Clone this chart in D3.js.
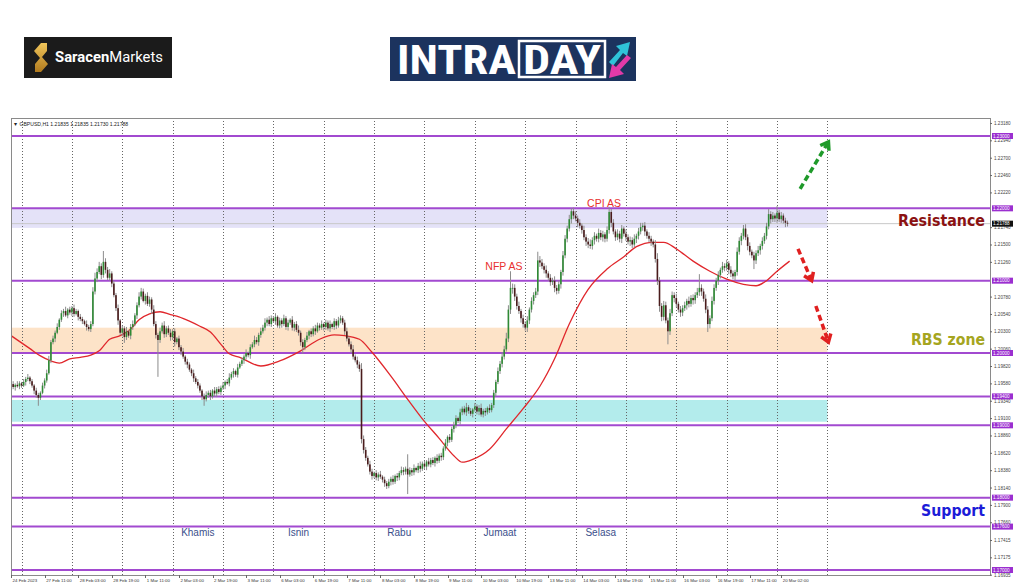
<!DOCTYPE html>
<html><head><meta charset="utf-8">
<script src="https://cdn.jsdelivr.net/npm/d3@7"></script>
<style>body{margin:0;background:#fff;} svg{display:block;font-family:"Liberation Sans",Arial,sans-serif;}</style>
</head><body><svg id="c" width="1024" height="587"></svg>
<script>
// ---------------- DATA (GBPUSD H1, 24 Feb 2023 19:00 -> 20 Mar 2023) ----------------
const firstOpen = 1.1955;
const closes = [
1.1957,1.1953,1.1956,1.1954,1.1958,1.1955,1.1960,1.1964,1.1966,1.1961,1.1955,
1.1948,1.1942,1.1938,1.1945,1.1955,1.1962,1.1972,1.1990,1.2015,1.2020,
1.2028,1.2036,1.2046,1.2055,1.2058,1.2052,1.2060,1.2056,1.2062,1.2054,1.2058,1.2050,1.2047,
1.2044,1.2040,1.2036,1.2033,1.2040,1.2085,1.2103,1.2112,1.2120,1.2108,1.2126,1.2115,
1.2104,1.2110,1.2096,1.2080,1.2062,1.2045,1.2028,1.2034,1.2022,1.2030,1.2024,1.2036,1.2040,
1.2052,1.2066,1.2078,1.2085,1.2072,1.2079,1.2068,1.2074,1.2060,1.2040,1.2025,1.2018,
1.2030,1.2038,1.2026,1.2034,1.2028,1.2022,1.2030,1.2015,1.2020,1.2008,
1.2002,1.1995,1.1988,1.1984,1.1977,1.1972,1.1965,1.1960,1.1955,1.1948,1.1940,1.1936,1.1942,
1.1945,1.1940,1.1948,1.1944,1.1950,1.1946,1.1952,1.1955,1.1960,1.1958,1.1966,1.1971,
1.1975,1.1970,1.1980,1.1985,1.1990,1.1995,1.2000,1.1997,1.2008,1.2012,1.2018,1.2015,1.2025,1.2030,1.2035,
1.2042,1.2046,1.2040,1.2048,1.2044,1.2050,1.2038,1.2045,1.2040,1.2048,1.2036,1.2042,1.2046,1.2035,1.2040,1.2032,1.2028,
1.2015,1.2008,1.2018,1.2024,1.2030,1.2026,1.2034,1.2030,1.2038,1.2035,1.2040,
1.2036,1.2042,1.2034,1.2040,1.2036,1.2044,1.2038,1.2045,1.2048,1.2042,
1.2030,1.2020,1.2012,1.2005,1.1995,1.1990,1.1984,1.1978,1.1881,1.1866,1.1855,1.1846,
1.1836,1.1830,1.1834,1.1828,1.1832,1.1829,1.1825,1.1820,1.1816,1.1822,
1.1826,1.1822,1.1830,1.1828,1.1834,1.1838,1.1836,1.1840,1.1832,1.1838,1.1835,1.1841,
1.1838,1.1844,1.1840,1.1847,1.1843,1.1850,1.1846,1.1852,1.1848,1.1855,1.1851,1.1858,1.1856,
1.1868,1.1876,1.1884,1.1880,1.1895,1.1900,1.1910,1.1906,1.1918,1.1923,
1.1918,1.1925,1.1920,1.1916,1.1922,1.1926,1.1919,1.1924,1.1915,1.1920,1.1918,1.1924,1.1921,1.1928,
1.1945,1.1960,1.1975,1.1985,1.1995,1.2005,1.2020,1.2060,1.2090,
1.2090,1.2078,1.2065,1.2058,1.2048,1.2040,1.2035,1.2045,1.2060,1.2072,1.2080,1.2085,
1.2128,1.2125,1.2120,1.2115,1.2110,1.2104,1.2098,1.2100,1.2090,1.2086,1.2095,
1.2112,1.2135,1.2158,1.2172,1.2185,1.2196,1.2190,1.2186,1.2180,1.2176,1.2170,
1.2160,1.2154,1.2150,1.2148,1.2156,1.2162,1.2158,1.2166,1.2160,1.2164,1.2158,
1.2170,1.2195,1.2180,1.2168,1.2160,1.2165,1.2158,1.2172,1.2165,1.2160,1.2154,1.2156,
1.2150,1.2158,1.2162,1.2168,1.2174,1.2176,1.2168,1.2162,1.2158,1.2154,1.2150,
1.2130,1.2100,1.2065,1.2050,1.2066,1.2045,1.2030,1.2055,1.2080,1.2076,
1.2068,1.2060,1.2056,1.2062,1.2066,1.2072,1.2068,1.2076,1.2073,1.2080,1.2084,1.2090,1.2085,1.2075,
1.2060,1.2040,1.2048,1.2072,1.2090,1.2100,1.2108,1.2115,1.2120,1.2118,1.2124,1.2115,
1.2110,1.2106,1.2112,1.2140,1.2155,1.2162,1.2172,1.2160,
1.2148,1.2140,1.2135,1.2128,1.2138,1.2142,1.2148,1.2155,1.2162,1.2175,
1.2192,1.2185,1.2190,1.2186,1.2194,1.2185,1.2190,1.2183,1.2180,1.21788
];
// wick extension beyond the body, in pips
const wickUp = [
3,4,2,5,3,2,4,3,5,2, 3,2,4,3,2,4,3,5,6,3, 4,3,5,2,4,3,6,2,4,3, 5,3,2,4,3,2,5,3,4,6,
8,5,6,4,15,5,4,6,3,4, 3,5,2,4,3,6,2,4,5,3, 4,6,5,4,3,5,4,3,6,4, 3,5,4,6,3,4,5,3,4,2,
4,3,5,2,4,3,2,5,3,4, 3,2,4,5,3,4,2,5,3,4, 3,5,2,4,6,3,4,2,5,3, 4,3,5,2,4,3,6,4,3,5,
4,6,3,5,4,3,5,2,4,3, 5,3,4,2,5,3,4,6,3,4, 3,5,2,4,3,5,4,3,5,2, 4,3,5,2,4,3,5,4,3,4,
5,3,4,6,3,5,4,8,5,4, 3,5,4,2,4,3,5,2,4,3, 4,3,5,2,4,3,5,4,3,20, 4,3,5,2,4,6,3,4,2,5,
3,4,2,5,3,4,3,5,2,4, 3,5,4,2,5,3,4,6,3,4, 2,5,3,4,6,3,4,2,5,3, 4,3,5,4,6,5,8,6,23,6,
5,4,6,3,5,4,6,3,5,4, 5,12,6,5,4,6,3,5,4,6, 4,5,3,6,5,4,6,4,5,6, 4,5,3,6,4,5,7,4,5,3,
6,4,5,3,5,7,4,5,3,6, 4,5,3,6,4,5,4,6,3,5, 6,4,5,3,5,4,3,6,8,5, 4,6,5,4,6,5,4,6,3,5,
4,5,3,6,4,5,4,6,19,5, 4,6,5,4,6,5,4,5,3,6, 4,5,3,5,4,3,6,5,4,5, 6,4,5,3,5,4,6,3,5,4,
5,7,4,5,3,9,4,5,3,4, 3];
const wickDown = [
4,3,5,2,4,3,2,5,3,4, 3,5,4,11,3,2,4,3,2,4, 3,5,2,4,3,5,2,4,3,5, 4,2,5,3,4,2,5,3,4,3,
4,5,3,6,4,5,3,4,5,3, 4,6,3,5,8,4,3,5,4,3, 5,3,4,2,5,3,4,6,3,5, 51,4,3,5,4,3,5,4,6,3,
4,5,3,4,5,3,4,5,3,4, 3,5,9,3,4,5,3,4,5,3, 4,3,5,2,4,3,5,3,4,2, 3,5,4,3,5,2,4,3,5,4,
3,4,5,3,4,2,5,3,4,5, 3,4,5,3,4,5,3,4,5,9, 4,3,5,4,3,5,2,4,3,5, 4,3,5,3,4,5,3,4,3,5,
4,3,5,4,3,5,4,6,5,4, 3,4,5,3,4,5,3,4,5,4, 3,5,4,3,5,4,3,5,4,27, 3,5,4,3,4,5,3,4,5,3,
4,3,5,4,3,5,4,3,5,4, 3,5,4,3,5,4,3,5,4,3, 5,3,4,5,3,4,5,3,4,3, 4,5,3,4,5,4,3,5,6,8,
6,5,4,6,5,4,6,5,4,5, 4,5,6,4,5,6,4,5,4,6, 5,4,6,5,4,5,4,6,5,4, 6,4,5,4,6,5,4,5,6,4,
5,4,6,5,4,5,6,4,5,4, 5,6,4,5,4,6,5,4,6,5, 4,5,6,4,5,6,4,5,6,8, 6,5,4,18,5,4,6,5,4,6,
5,4,6,5,4,6,5,4,5,6, 4,5,11,6,4,5,4,6,5,4, 5,4,6,5,4,6,5,4,6,5, 4,6,5,4,12,5,4,6,5,4,
5,4,6,4,5,6,4,5,4,6, 4];
// moving average (red line) read at bar positions
const maBars = [0,9,14,19,23,28,33,38,42,47,52,57,61,66,71,76,80,85,90,95,100,104,109,119,128,138,147,154,159,166,172,181,189,196,204,211,215,220,228,236,244,252,259,266,275,284,292,298,306,311,317,325,333,341,349,355,360,365,371];
const maValues = [1.2024,1.2006,1.1996,1.1989,1.1986,1.1992,1.1994,1.1997,1.2003,1.2019,1.2024,1.2033,1.2046,1.2054,1.2057,1.2053,1.2050,1.2044,1.2037,1.2029,1.2012,1.1999,1.1994,1.1982,1.1989,1.2003,1.2019,1.2025,1.2024,1.2019,1.2001,1.1968,1.1936,1.1909,1.1882,1.1858,1.1849,1.1853,1.1867,1.1895,1.1923,1.1954,1.1992,1.2040,1.2088,1.2116,1.2133,1.2147,1.2153,1.2153,1.2144,1.2127,1.2113,1.2102,1.2095,1.2093,1.2100,1.2113,1.2127];
const levelPrices = [1.23,1.22,1.21,1.20,1.194,1.19,1.18,1.176,1.17];
const zoneLow  = [1.2173,1.2000,1.1905];
const zoneHigh = [1.2200,1.2035,1.1935];
const zoneFill = ["#e4e2f8","#fde3c8","#b3ecec"];
const lastPrice = 1.21788;
const priceTicks = [1.23180,1.22940,1.22700,1.22460,1.22220,1.21980,1.21740,1.21500,1.21260,1.21020,1.20780,1.20540,1.20300,1.20060,1.19820,1.19580,1.19340,1.19100,1.18860,1.18620,1.18380,1.18140,1.17900,1.17660,1.17415,1.17175,1.16935];
const timeLabels = ["24 Feb 2023","27 Feb 11:00","28 Feb 03:00","28 Feb 19:00","1 Mar 11:00","2 Mar 03:00","2 Mar 19:00","3 Mar 11:00","6 Mar 03:00","6 Mar 19:00","7 Mar 11:00","8 Mar 03:00","8 Mar 19:00","9 Mar 11:00","10 Mar 03:00","10 Mar 19:00","13 Mar 11:00","14 Mar 03:00","14 Mar 19:00","15 Mar 11:00","16 Mar 03:00","16 Mar 19:00","17 Mar 11:00","20 Mar 02:00"];
const timeLabelBars = [0,16,32,48,64,80,96,112,128,144,160,176,192,208,224,240,256,272,288,304,320,336,352,367];
const dayStartBars = [5,29,53,77,101,125,149,173,197,221,245,269,293,317,341,365,389];
const dayNames = ["Khamis","Isnin","Rabu","Jumaat","Selasa"];
const dayNameBars = [89,137,185,233,281];

// ---------------- DRAW ----------------
const svg = d3.select("#c");
const PL = 11, PR = 990, PT = 118, PB = 575;
const x = d3.scaleLinear().domain([0, 389]).range([11.05, 827.4]);
const y = d3.scaleLinear().domain([1.17, 1.23]).range([570, 136]);
const pip = 0.0001;
const candles = closes.map((c, i) => {
  const o = i ? closes[i - 1] : firstOpen;
  return {i, o, c, h: Math.max(o, c) + wickUp[i] * pip, l: Math.min(o, c) - wickDown[i] * pip};
});

svg.append("rect").attr("width", 1024).attr("height", 587).attr("fill", "#fff");

// logos
const sar = svg.append("g");
sar.append("rect").attr("x", 24).attr("y", 37).attr("width", 148).attr("height", 41).attr("fill", "#1b1b1b");
const gold = svg.append("defs").append("linearGradient").attr("id", "gold").attr("x1", 0).attr("y1", 0).attr("x2", 0).attr("y2", 1);
gold.append("stop").attr("offset", 0).attr("stop-color", "#f0c55a");
gold.append("stop").attr("offset", 1).attr("stop-color", "#b07a1e");
sar.append("path").attr("d", "M47,43 L41,43 L34,51 L40,58 L35,64 L35,72 L41,72 L48,64 L42,57 L47,51 Z").attr("fill", "url(#gold)");
sar.append("text").attr("x", 55).attr("y", 62).attr("fill", "#fff").attr("font-size", 14)
  .attr("font-family", "Roboto, 'Liberation Sans', sans-serif").attr("textLength", 108).attr("lengthAdjust", "spacingAndGlyphs")
  .call(t => { t.append("tspan").attr("font-weight", 700).text("Saracen"); t.append("tspan").attr("font-weight", 400).text("Markets"); });

const intra = svg.append("g");
intra.append("rect").attr("x", 390).attr("y", 37).attr("width", 246).attr("height", 44).attr("fill", "#1c335e");
intra.append("text").attr("x", 397).attr("y", 74).attr("fill", "#fff").attr("font-size", 41).attr("font-weight", 700)
  .attr("font-family", "'Liberation Sans Narrow','Roboto Condensed','Liberation Sans',sans-serif")
  .attr("textLength", 119).attr("lengthAdjust", "spacingAndGlyphs").text("INTRA");
intra.append("rect").attr("x", 519).attr("y", 41).attr("width", 86).attr("height", 36).attr("fill", "none").attr("stroke", "#fff").attr("stroke-width", 2.5);
intra.append("text").attr("x", 523).attr("y", 74).attr("fill", "#fff").attr("font-size", 41).attr("font-weight", 700)
  .attr("font-family", "'Liberation Sans Narrow','Roboto Condensed','Liberation Sans',sans-serif")
  .attr("textLength", 78).attr("lengthAdjust", "spacingAndGlyphs").text("DAY");
intra.append("path").attr("d", "M609,62 L620,50 L616,46 L630,42 L627,56 L623,53 L613,66 Z").attr("fill", "#2fc3d8");
intra.append("path").attr("d", "M631,58 L620,70 L624,74 L609,78 L612,64 L616,67 L627,55 Z").attr("fill", "#e23aa8");

// plot area
const defs = svg.append("defs");
defs.append("clipPath").attr("id", "plot").append("rect").attr("x", PL).attr("y", PT).attr("width", PR - PL).attr("height", PB - PT);
const plot = svg.append("g").attr("clip-path", "url(#plot)");

// zones
plot.selectAll("rect.zone").data(zoneLow).join("rect").attr("class", "zone")
  .attr("x", PL).attr("width", (d) => x(389) - PL)
  .attr("y", (d, i) => y(zoneHigh[i])).attr("height", (d, i) => y(zoneLow[i]) - y(zoneHigh[i]))
  .attr("fill", (d, i) => zoneFill[i]);

// day separators (dotted grid)
plot.selectAll("line.grid").data(dayStartBars).join("line").attr("class", "grid")
  .attr("x1", d => Math.round(x(d)) + 0.5).attr("x2", d => Math.round(x(d)) + 0.5)
  .attr("y1", PT).attr("y2", PB).attr("stroke", "#666").attr("stroke-width", 1).attr("stroke-dasharray", "1,2");

// bid line
plot.append("line").attr("x1", PL).attr("x2", PR).attr("y1", y(lastPrice)).attr("y2", y(lastPrice)).attr("stroke", "#c8c8c8").attr("stroke-width", 1);

// levels
plot.selectAll("line.level").data(levelPrices).join("line").attr("class", "level")
  .attr("x1", PL).attr("x2", PR).attr("y1", d => y(d)).attr("y2", d => y(d))
  .attr("stroke", "#a24ad0").attr("stroke-width", 2);

// moving average
plot.append("path").datum(maBars.map((b, i) => [b, maValues[i]]))
  .attr("d", d3.line().x(d => x(d[0])).y(d => y(d[1])).curve(d3.curveMonotoneX))
  .attr("fill", "none").attr("stroke", "#e0272c").attr("stroke-width", 1.3);

// candles
const cg = plot.append("g");
cg.selectAll("line.wick").data(candles).join("line").attr("class", "wick")
  .attr("x1", d => x(d.i)).attr("x2", d => x(d.i)).attr("y1", d => y(d.h)).attr("y2", d => y(d.l))
  .attr("stroke", "#8c8c8c").attr("stroke-width", 1);
cg.selectAll("rect.body").data(candles).join("rect").attr("class", "body")
  .attr("x", d => x(d.i) - 0.8).attr("width", 1.6)
  .attr("y", d => y(Math.max(d.o, d.c))).attr("height", d => Math.max(0.8, Math.abs(y(d.o) - y(d.c))))
  .attr("fill", d => d.c >= d.o ? "#2f8a35" : "#4a1c1c");

// frame
svg.append("rect").attr("x", PL + 0.5).attr("y", PT + 0.5).attr("width", PR - PL).attr("height", PB - PT)
  .attr("fill", "none").attr("stroke", "#8a8a8a").attr("stroke-width", 1);

// header
svg.append("text").attr("x", 13).attr("y", 125.5).attr("font-size", 5.1).attr("fill", "#222")
  .text("\u25BC GBPUSD,H1  1.21835 1.21835 1.21730 1.21788");

// right price axis (labels fully covered by a price tag are not drawn, as in the terminal)
const tagPrices = levelPrices.concat([lastPrice]);
const covered = v => tagPrices.some(p => Math.abs(y(p) - y(v)) < 2.6);
const ya = svg.append("g").attr("transform", `translate(${PR},0)`)
  .call(d3.axisRight(y).tickValues(priceTicks.filter(v => !covered(v))).tickFormat(d3.format(".5f")).tickSize(2).tickPadding(2));
ya.select(".domain").remove();
ya.selectAll("line").attr("stroke", "#666");
ya.selectAll("text").attr("font-size", 4.6).attr("fill", "#444").attr("font-family", "'Liberation Sans',sans-serif");

// level tags
const tags = svg.append("g");
tags.selectAll("rect").data(levelPrices).join("rect")
  .attr("x", PR + 2).attr("y", d => y(d) - 3).attr("width", 21).attr("height", 6).attr("fill", "#9b2fd0");
tags.selectAll("text").data(levelPrices).join("text")
  .attr("x", PR + 3).attr("y", d => y(d) + 1.7).attr("font-size", 4.6).attr("fill", "#fff").text(d3.format(".5f"));
svg.append("rect").attr("x", PR + 2).attr("y", y(lastPrice) - 3).attr("width", 21).attr("height", 6).attr("fill", "#111");
svg.append("text").attr("x", PR + 3).attr("y", y(lastPrice) + 1.7).attr("font-size", 4.6).attr("fill", "#fff").text(d3.format(".5f")(lastPrice));

// time axis labels
const ta = svg.append("g");
ta.selectAll("line").data(timeLabelBars).join("line")
  .attr("x1", d => Math.round(x(d)) + 0.5).attr("x2", d => Math.round(x(d)) + 0.5).attr("y1", PB).attr("y2", PB + 3).attr("stroke", "#666");
ta.selectAll("text").data(timeLabels).join("text")
  .attr("x", (d, i) => x(timeLabelBars[i]) + 1.5).attr("y", 582).attr("font-size", 4.4).attr("fill", "#333").text(d => d);

// day names
svg.selectAll("text.day").data(dayNames).join("text").attr("class", "day")
  .attr("x", (d, i) => x(dayNameBars[i])).attr("y", y(1.1747)).attr("text-anchor", "middle")
  .attr("font-size", 10).attr("fill", "#3b4f8c").text(d => d);

// event annotations
svg.append("text").attr("x", x(226)).attr("y", y(1.2115)).attr("font-size", 10.5).attr("fill", "#e8302e").text("NFP AS");
svg.append("text").attr("x", x(274.5)).attr("y", y(1.2202)).attr("font-size", 10.5).attr("fill", "#e8302e").text("CPI AS");

// zone labels
const lab = (t, p, col, w) => svg.append("text").attr("x", 985).attr("y", y(p)).attr("text-anchor", "end")
  .attr("font-size", 16.5).attr("font-weight", 700).attr("fill", col)
  .attr("textLength", w).attr("lengthAdjust", "spacingAndGlyphs")
  .attr("font-family", "'DejaVu Sans','Liberation Sans',sans-serif").text(t);
lab("Resistance", 1.2176, "#8b1212", 87);
lab("RBS zone", 1.2011, "#a5a520", 74);
lab("Support", 1.1774, "#1c1cd8", 64);

// arrows
const arrow = (b1, p1, b2, p2, col) => {
  const x1 = x(b1), y1 = y(p1), x2 = x(b2), y2 = y(p2);
  svg.append("line").attr("x1", x1).attr("y1", y1).attr("x2", x2).attr("y2", y2)
    .attr("stroke", col).attr("stroke-width", 3.5).attr("stroke-dasharray", "6,3.5");
  const a = Math.atan2(y2 - y1, x2 - x1), L = 9;
  const pts = [[x2 - L * Math.cos(a - 0.6), y2 - L * Math.sin(a - 0.6)], [x2, y2], [x2 - L * Math.cos(a + 0.6), y2 - L * Math.sin(a + 0.6)]];
  svg.append("path").attr("d", d3.line()(pts)).attr("fill", "none").attr("stroke", col).attr("stroke-width", 3.5);
};
arrow(376, 1.2227, 389.5, 1.2292, "#1f9a2a");
arrow(375, 1.2144, 381.5, 1.2100, "#e02020");
arrow(383.5, 1.2065, 389.5, 1.2015, "#e02020");
</script></body></html>
